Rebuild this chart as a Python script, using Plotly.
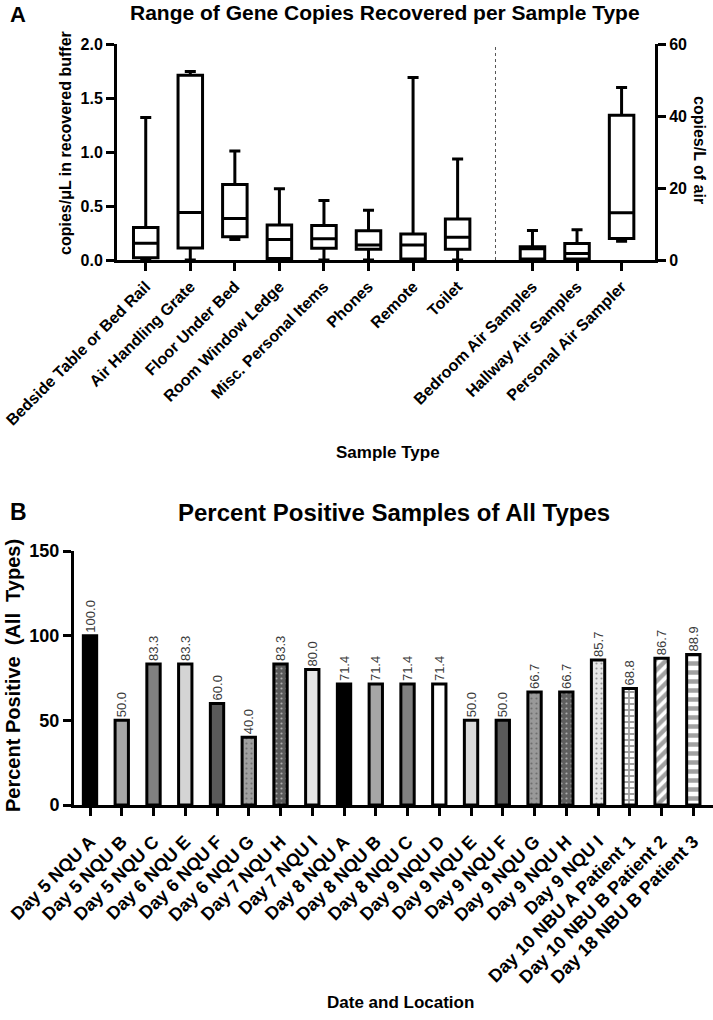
import plotly.graph_objects as go

W, H = 713, 1020
def px(x): return x / W
def py(y): return 1 - y / H

# ---------------- Panel A data ----------------
surface_types = ["Bedside Table or Bed Rail", "Air Handling Grate", "Floor Under Bed",
                 "Room Window Ledge", "Misc. Personal Items", "Phones", "Remote", "Toilet"]
surface_min = [0.0, 0.0, 0.19, 0.0, 0.0, 0.0, 0.0, 0.0]
surface_q1 = [0.02, 0.11, 0.215, 0.015, 0.108, 0.10, 0.01, 0.10]
surface_med = [0.155, 0.44, 0.385, 0.19, 0.197, 0.14, 0.14, 0.21]
surface_q3 = [0.30, 1.71, 0.70, 0.325, 0.32, 0.27, 0.24, 0.38]
surface_max = [1.32, 1.745, 1.01, 0.66, 0.55, 0.46, 1.69, 0.935]

air_types = ["Bedroom Air Samples", "Hallway Air Samples", "Personal Air Sampler"]
air_min = [0.0, 0.0, 5.2]
air_q1 = [0.3, 0.3, 6.0]
air_med = [3.1, 1.8, 13.1]
air_q3 = [3.7, 4.6, 40.2]
air_max = [8.2, 8.4, 47.9]

surface_pos = [0, 1, 2, 3, 4, 5, 6, 7]
air_pos = [8.68, 9.68, 10.68]
separator_pos = 7.85

# ---------------- Panel B data ----------------
locations = ["Day 5 NQU A", "Day 5 NQU B", "Day 5 NQU C", "Day 6 NQU E", "Day 6 NQU F",
             "Day 6 NQU G", "Day 7 NQU H", "Day 7 NQU I", "Day 8 NQU A", "Day 8 NQU B",
             "Day 8 NQU C", "Day 9 NQU D", "Day 9 NQU E", "Day 9 NQU F", "Day 9 NQU G",
             "Day 9 NQU H", "Day 9 NQU I", "Day 10 NBU A Patient 1",
             "Day 10 NBU B Patient 2", "Day 18 NBU B Patient 3"]
percent_positive = [100.0, 50.0, 83.3, 83.3, 60.0, 40.0, 83.3, 80.0, 71.4, 71.4,
                    71.4, 71.4, 50.0, 50.0, 66.7, 66.7, 85.7, 68.8, 86.7, 88.9]
bar_fill = ["#000000", "#a6a6a6", "#808080", "#d4d4d4", "#5a5a5a", "#a0a0a0",
            "#5a5a5a", "#e6e6e6", "#000000", "#a6a6a6", "#808080", "#ffffff",
            "#d9d9d9", "#5a5a5a", "#999999", "#5f5f5f", "#e8e8e8", "#ffffff",
            "#ffffff", "#ffffff"]
bar_pattern = ["", "", "", "", "", ".", ".", "", "", "", "", "", "", "", ".", ".", ".",
               "+", "/", "-"]
pattern_fg = ["#000", "#000", "#000", "#000", "#000", "#e0e0e0", "#bdbdbd", "#000",
              "#000", "#000", "#000", "#000", "#000", "#000", "#cfcfcf", "#b0b0b0",
              "#777777", "#000000", "#000000", "#000000"]
pattern_size = [6, 6, 6, 6, 6, 5, 5, 6, 6, 6, 6, 6, 6, 6, 5, 5, 5, 6, 8, 9]
pattern_solid = [0.2, 0.2, 0.2, 0.2, 0.2, 0.15, 0.15, 0.2, 0.2, 0.2, 0.2, 0.2, 0.2, 0.2,
                 0.15, 0.15, 0.15, 0.5, 0.55, 0.5]

FONT = "Liberation Sans, Arial, sans-serif"

fig = go.Figure()

box_style = dict(fillcolor="white", line=dict(color="black", width=3),
                 whiskerwidth=0.45, width=0.55, showlegend=False, hoverinfo="skip")
fig.add_trace(go.Box(x=surface_pos, q1=surface_q1, median=surface_med, q3=surface_q3,
                     lowerfence=surface_min, upperfence=surface_max,
                     xaxis="x", yaxis="y", **box_style))
fig.add_trace(go.Box(x=air_pos, q1=air_q1, median=air_med, q3=air_q3,
                     lowerfence=air_min, upperfence=air_max,
                     xaxis="x", yaxis="y2", **box_style))

fig.add_trace(go.Bar(
    x=list(range(len(locations))), y=percent_positive, xaxis="x2", yaxis="y3",
    width=0.42,
    marker=dict(color=bar_fill, line=dict(color="black", width=3),
                pattern=dict(shape=bar_pattern, fgcolor=pattern_fg, fillmode="overlay",
                             size=pattern_size, solidity=pattern_solid)),
    texttemplate="%{y:.1f}", textposition="outside", textangle=-90,
    textfont=dict(family=FONT, size=13, color="#3a3a3a"),
    constraintext="none", cliponaxis=False, showlegend=False, hoverinfo="skip"))

axis_common = dict(showline=True, linecolor="black", linewidth=3, ticks="outside",
                   ticklen=8, tickwidth=3, tickcolor="black", showgrid=False,
                   zeroline=False, automargin=False)

fig.update_layout(
    width=W, height=H, margin=dict(l=0, r=0, t=0, b=0),
    paper_bgcolor="white", plot_bgcolor="white",
    font=dict(family=FONT, color="black"),
    xaxis=dict(domain=[px(117), px(655)], range=[-0.645, 11.43],
               tickvals=surface_pos + air_pos, ticktext=surface_types + air_types,
               tickangle=-45, tickfont=dict(size=16, weight="bold"),
               anchor="y", **axis_common),
    yaxis=dict(domain=[py(260), py(44)], range=[0, 2.0], tickvals=[0, 0.5, 1.0, 1.5, 2.0],
               tickformat=".1f", tickfont=dict(size=16, weight="bold"),
               anchor="x", **axis_common),
    yaxis2=dict(domain=[py(260), py(44)], range=[0, 60], tickvals=[0, 20, 40, 60],
                overlaying="y", side="right", anchor="x",
                tickfont=dict(size=16, weight="bold"), **axis_common),
    xaxis2=dict(domain=[px(74), 1.0], range=[-0.504, 19.62],
                tickvals=list(range(len(locations))), ticktext=locations,
                tickangle=-45, tickfont=dict(size=18, weight="bold"),
                ticklabelstandoff=8,
                anchor="y3", **axis_common),
    yaxis3=dict(domain=[py(805), py(551)], range=[0, 150], tickvals=[0, 50, 100, 150],
                tickfont=dict(size=18, weight="bold"), anchor="x2", **axis_common),
    shapes=[dict(type="line", xref="x", yref="y domain", x0=separator_pos, x1=separator_pos,
                 y0=0, y1=1, line=dict(color="#555555", width=1, dash="dot"))],
)

def ann(text, x, y, size, angle=0, weight="bold"):
    fig.add_annotation(text=text, x=px(x), y=py(y), xref="paper", yref="paper",
                       showarrow=False, textangle=angle, xanchor="center", yanchor="middle",
                       font=dict(family=FONT, size=size, color="black", weight=weight))

ann("A", 18, 15, 22)
ann("Range of Gene Copies Recovered per Sample Type", 385, 13, 21)
ann("copies/μL in recovered buffer", 66, 143, 16, -90)
ann("copies/L of air", 700, 150, 16, 90)
ann("Sample Type", 388, 452, 17)
ann("B", 18, 512, 23)
ann("Percent Positive Samples of All Types", 394, 512, 24)
ann("Percent Positive  (All  Types)", 13, 676, 20, -90)
ann("Date and Location", 400, 1002, 17)

fig.write_html("out.html", config={"displayModeBar": False},
               post_script="document.body.style.margin='0';document.body.style.overflow='hidden';")
